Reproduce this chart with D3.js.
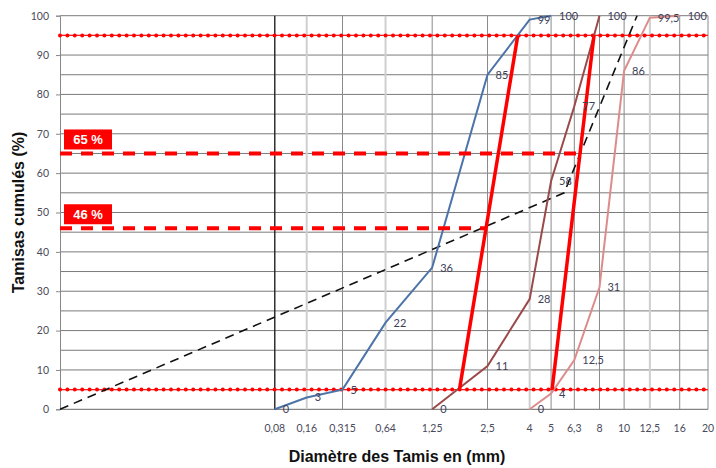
<!DOCTYPE html>
<html lang="fr">
<head>
<meta charset="UTF-8">
<title>Courbe granulométrique</title>
<script src="https://d3js.org/d3.v7.min.js"></script>
<style>
  html, body { margin: 0; padding: 0; background: #fff; }
  svg { display: block; }
  .tick-lbl { font-family: Lato, "Liberation Sans", sans-serif; font-size: 10.5px; fill: #4a4a5a; }
  .data-lbl { font-family: Lato, "Liberation Sans", sans-serif; font-size: 11px; fill: #3d4058; }
  .title { font-family: "Liberation Sans", Arial, sans-serif; font-weight: bold; font-size: 16px; fill: #111; }
  .pct { font-family: "Liberation Sans", Arial, sans-serif; font-weight: bold; font-size: 13px; fill: #fff; }
</style>
</head>
<body>
<svg id="chart"></svg>
<script>
// sieve openings (mm) and their labels
const sieves = [0.08, 0.16, 0.315, 0.64, 1.25, 2.5, 4, 5, 6.3, 8, 10, 12.5, 16, 20];
const sieveLabels = ["0,08", "0,16", "0,315", "0,64", "1,25", "2,5", "4", "5", "6,3", "8", "10", "12,5", "16", "20"];
const yTicks = [0, 10, 20, 30, 40, 50, 60, 70, 80, 90, 100];

// cumulative passing (%) per material
const sableFinX = [0.08, 0.16, 0.315, 0.64, 1.25, 2.5, 4, 5];
const sableFinY = [0, 3, 5, 22, 36, 85, 99, 100];
const sableGrosX = [1.25, 2.5, 4, 5, 6.3, 8];
const sableGrosY = [0, 11, 28, 58, 77, 100];
const gravierX = [4, 5, 6.3, 8, 10, 12.5, 16];
const gravierY = [0, 4, 12.5, 31, 86, 99.5, 100];

// reference curve (dashed black)
const refX = [0, 5.7, 11.2];
const refY = [0, 55, 100];

// 5 % / 95 % limits and the two joining lines
const limits = [5, 95];
const joinAX = [1.78, 3.52];
const joinBX = [5.05, 7.6];
const pctValues = [46, 65];

const W = 716, H = 468;
const svg = d3.select("#chart").attr("width", W).attr("height", H);

const x = d3.scalePow().exponent(0.2).domain([0, 20]).range([60, 708]);
const y = d3.scaleLinear().domain([0, 100]).range([409.3, 15.7]);

const fmt = v => String(v).replace(".", ",");

// horizontal grid every 5 %
svg.append("g").selectAll("line")
  .data(d3.range(0, 101, 5))
  .join("line")
  .attr("x1", x(0)).attr("x2", x(20))
  .attr("y1", d => y(d)).attr("y2", d => y(d))
  .attr("stroke", d => d === 0 ? "#666" : "#7a7a7a")
  .attr("stroke-width", 1);

// vertical grid on each sieve
const lightSieves = [0.16, 0.64, 4, 12.5];
svg.append("g").selectAll("line")
  .data(sieves)
  .join("line")
  .attr("x1", d => x(d)).attr("x2", d => x(d))
  .attr("y1", y(0)).attr("y2", y(100))
  .attr("stroke", d => d === 0.08 ? "#222" : (lightSieves.includes(d) ? "#cfcfcf" : "#8a8a8a"))
  .attr("stroke-width", d => d === 0.08 ? 1.4 : (lightSieves.includes(d) ? 2 : 1));

// y axis
const yAxis = svg.append("g").attr("transform", `translate(${x(0)},0)`)
  .call(d3.axisLeft(y).tickValues(yTicks).tickSize(4).tickPadding(7));
yAxis.select(".domain").attr("stroke", "#888");
yAxis.selectAll(".tick line").attr("stroke", "#888");
yAxis.selectAll(".tick text").attr("class", "tick-lbl").attr("font-family", null).attr("font-size", null);

// x tick labels
svg.append("g").selectAll("text")
  .data(sieves)
  .join("text")
  .attr("class", "tick-lbl")
  .attr("x", d => x(d)).attr("y", 432)
  .attr("text-anchor", "middle")
  .text((d, i) => sieveLabels[i]);

// 5 % and 95 % limits (dotted red)
limits.forEach(v => {
  svg.append("line")
    .attr("x1", x(0)).attr("x2", x(20)).attr("y1", y(v)).attr("y2", y(v))
    .attr("stroke", "#ff1a1a").attr("stroke-width", 1.4);
  svg.append("line")
    .attr("x1", x(0)).attr("x2", x(20)).attr("y1", y(v)).attr("y2", y(v))
    .attr("stroke", "#ff0000").attr("stroke-width", 4)
    .attr("stroke-linecap", "round").attr("stroke-dasharray", "0 7.4");
});

const line = d3.line().x(d => x(d[0])).y(d => y(d[1]));

// reference dashed line
svg.append("path")
  .attr("d", line(d3.zip(refX, refY)))
  .attr("fill", "none").attr("stroke", "#111").attr("stroke-width", 1.6)
  .attr("stroke-dasharray", "9 6");

// material curves
const curves = [
  { xs: sableFinX, ys: sableFinY, color: "#4d74a8" },
  { xs: sableGrosX, ys: sableGrosY, color: "#9a4a4a" },
  { xs: gravierX, ys: gravierY, color: "#dd8c8c" }
];
curves.forEach(c => {
  const pts = d3.zip(c.xs, c.ys);
  svg.append("path")
    .attr("d", line(pts))
    .attr("fill", "none").attr("stroke", c.color).attr("stroke-width", 2);
});

// red joining lines
const joins = [joinAX, joinBX];
joins.forEach(j => {
  svg.append("path")
    .attr("d", line(d3.zip(j, limits)))
    .attr("fill", "none").attr("stroke", "#ff0000").attr("stroke-width", 3.5);
});

// percentage dashed lines up to the joining lines
const crossX = (j, v) => {
  const t = (v - limits[0]) / (limits[1] - limits[0]);
  return x(j[0]) + t * (x(j[1]) - x(j[0]));
};
pctValues.forEach((v, i) => {
  const j = joins[i];
  svg.append("line")
    .attr("x1", x(0)).attr("x2", crossX(j, v))
    .attr("y1", y(v)).attr("y2", y(v))
    .attr("stroke", "#ff0000").attr("stroke-width", 4)
    .attr("stroke-dasharray", "12 9");
  const g = svg.append("g");
  g.append("rect")
    .attr("x", x(0) + 4).attr("y", y(v) - 24)
    .attr("width", 48).attr("height", 20)
    .attr("fill", "#ff0000");
  g.append("text")
    .attr("class", "pct")
    .attr("x", x(0) + 28).attr("y", y(v) - 9.5)
    .attr("text-anchor", "middle")
    .text(v + " %");
});

// data labels
curves.forEach(c => {
  svg.append("g").selectAll("text")
    .data(d3.zip(c.xs, c.ys))
    .join("text")
    .attr("class", "data-lbl")
    .attr("x", d => x(d[0]) + 8)
    .attr("y", d => y(d[1]) + 4)
    .text(d => fmt(d[1]));
});

// axis titles
svg.append("text")
  .attr("class", "title")
  .attr("transform", `translate(24,${(y(0) + y(100)) / 2}) rotate(-90)`)
  .attr("text-anchor", "middle")
  .text("Tamisas cumulés (%)");

svg.append("text")
  .attr("class", "title")
  .attr("x", 397).attr("y", 462)
  .attr("text-anchor", "middle")
  .text("Diamètre des Tamis en (mm)");
</script>
</body>
</html>
